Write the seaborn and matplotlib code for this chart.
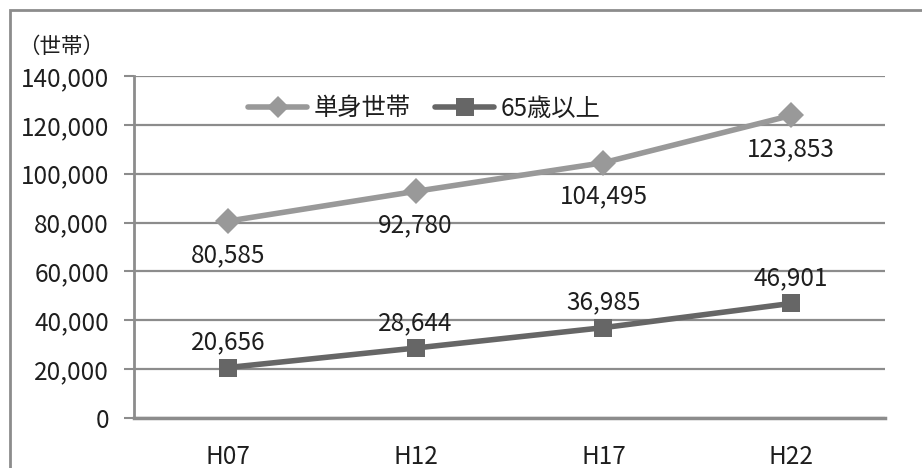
import matplotlib
matplotlib.use("Agg")
import matplotlib.pyplot as plt
import matplotlib.patches as mpatches
import seaborn as sns
import pandas as pd
import numpy as np

years = ["H07", "H12", "H17", "H22"]
single_households = [80585, 92780, 104495, 123853]
elderly_65_plus = [20656, 28644, 36985, 46901]
series_names = ["単身世帯", "65歳以上"]

df = pd.DataFrame({
    "pos": list(range(len(years))) * 2,
    "value": single_households + elderly_65_plus,
    "series": [series_names[0]] * len(years) + [series_names[1]] * len(years),
})

sns.set_theme(style="white")
plt.rcParams["font.family"] = ["Noto Sans CJK JP", "DejaVu Sans"]

TXT = "#1e1e1e"
GRID = "#8c8c8c"
FS = 17.5

colors = {series_names[0]: "#999999", series_names[1]: "#666666"}
markers = {series_names[0]: "D", series_names[1]: "s"}

fig = plt.figure(figsize=(9.22, 4.68), dpi=100)
ax = fig.add_axes([134 / 922, 1 - 418 / 468, (885 - 134) / 922, (418 - 76) / 468])

# outer chart frame
fig.patches.append(mpatches.Rectangle((10 / 922, -0.1), 1.2, 1 - 10 / 468 + 0.1,
                                      transform=fig.transFigure, fill=False,
                                      edgecolor=GRID, linewidth=2))

sns.lineplot(data=df, x="pos", y="value", hue="series", style="series",
             palette=colors, markers=markers, dashes=False, linewidth=4,
             markersize=13, markeredgewidth=0, ax=ax, legend=False, zorder=3)

ax.set_xlim(-0.5, len(years) - 0.5)
ax.set_ylim(0, 140000)
ax.set_yticks(np.arange(0, 140001, 20000))
ax.set_yticklabels([f"{v:,}" for v in range(0, 140001, 20000)])
ax.yaxis.grid(True, color=GRID, linewidth=1.6)
ax.set_axisbelow(True)

ax.set_xticks(np.arange(-0.5, len(years), 1.0))
ax.set_xticklabels([])
ax.set_xticks(np.arange(len(years)), minor=True)
ax.set_xticklabels(years, minor=True)
ax.tick_params(axis="x", which="major", length=7, width=1.5, color=GRID, direction="out")
ax.tick_params(axis="x", which="minor", length=0, labelsize=FS, pad=18.5, colors=TXT)
ax.tick_params(axis="y", length=7, width=1.5, color=GRID, direction="out",
               labelsize=FS, pad=11, labelcolor=TXT, left=True)

for side in ["top", "right"]:
    ax.spines[side].set_visible(False)
ax.spines["left"].set_color(GRID)
ax.spines["left"].set_linewidth(2)
ax.spines["bottom"].set_color(GRID)
ax.spines["bottom"].set_linewidth(2.5)
ax.set_xlabel("")
ax.set_ylabel("")

# value labels: below the single-household line, above the 65+ line
for i, v in enumerate(single_households):
    ax.annotate(f"{v:,}", (i, v), xytext=(0, -24.5), textcoords="offset points",
                ha="center", va="center", fontsize=FS, color=TXT)
for i, v in enumerate(elderly_65_plus):
    ax.annotate(f"{v:,}", (i, v), xytext=(0, 18), textcoords="offset points",
                ha="center", va="center", fontsize=FS, color=TXT)

handles = [plt.Line2D([], [], color=colors[n], marker=markers[n], linewidth=4,
                      markersize=13 if n == series_names[1] else 11, markeredgewidth=0)
           for n in series_names]
ax.legend(handles, series_names, loc="center", bbox_to_anchor=(0.387, 0.905), ncol=2,
          frameon=False, fontsize=FS, handlelength=2.4, columnspacing=1.0,
          handletextpad=0.3, labelcolor=TXT)

fig.text(18 / 922, 1 - 47 / 468, "（世帯）", fontsize=15.5, va="center", ha="left", color=TXT)

fig.savefig("out.png", dpi=100)
